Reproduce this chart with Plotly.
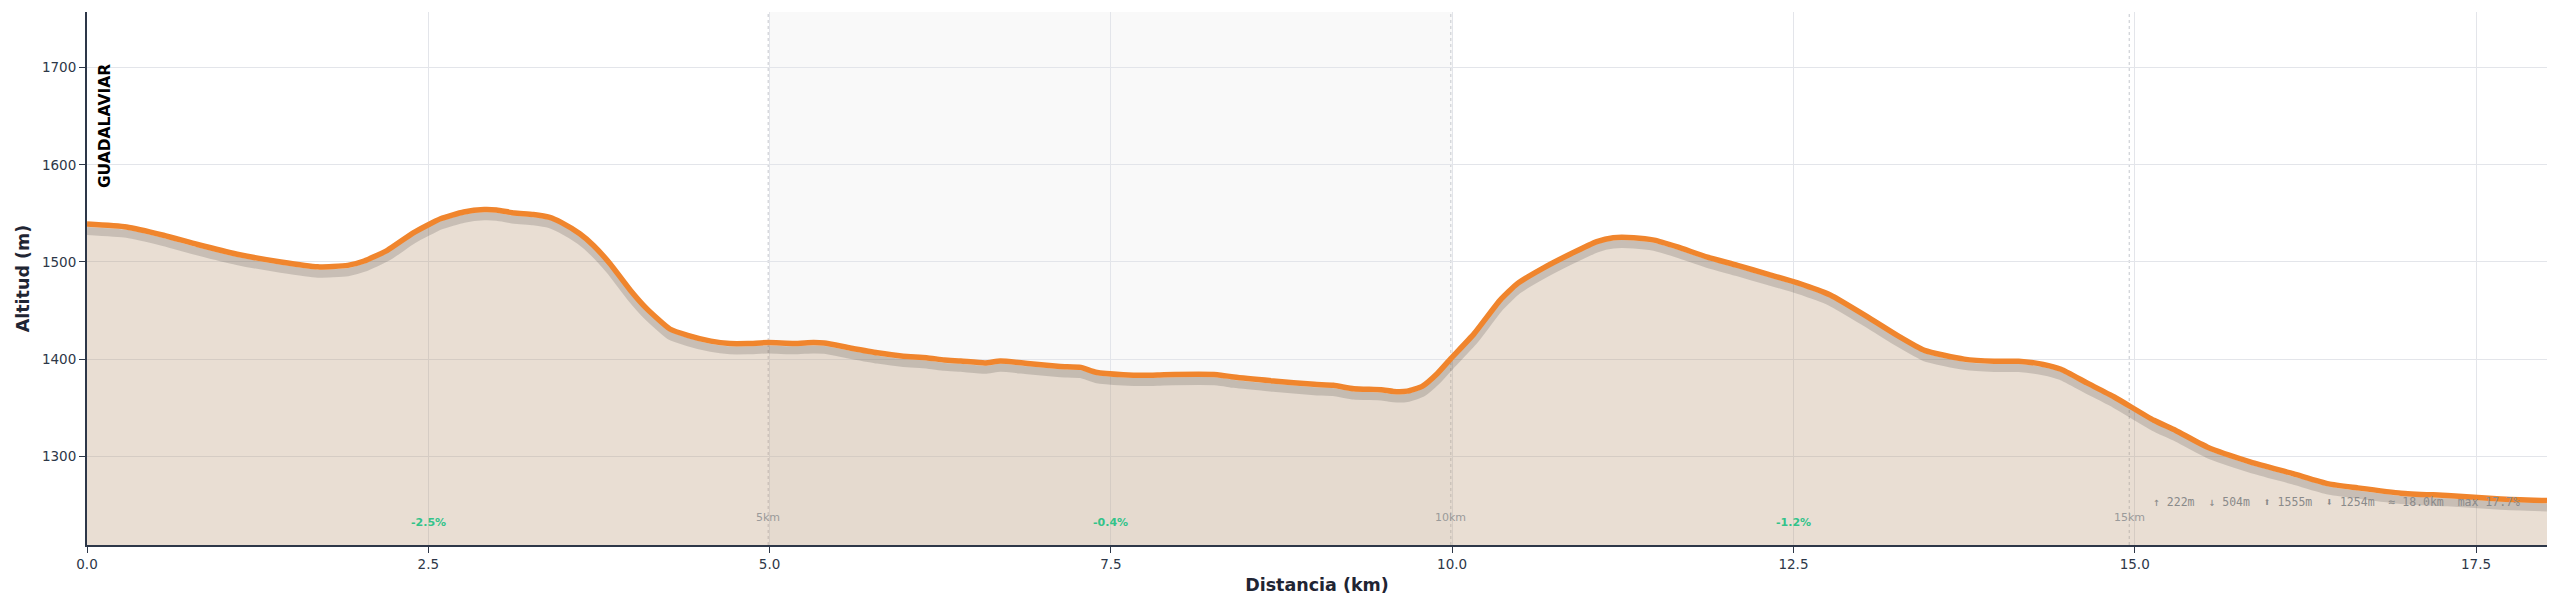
import plotly.graph_objects as go

# ---- data ----
distance_km = [0.00, 0.29, 0.56, 0.81, 1.10, 1.42, 1.69, 1.91, 2.03, 2.20, 2.39, 2.59, 2.76, 2.91,
               3.00, 3.13, 3.27, 3.39, 3.47, 3.61, 3.71, 3.83, 3.98, 4.10, 4.27, 4.40, 4.57, 4.71,
               4.84, 4.99, 5.18, 5.32, 5.40, 5.59, 5.79, 5.98, 6.15, 6.28, 6.40, 6.58, 6.69, 6.89,
               7.13, 7.28, 7.39, 7.59, 7.79, 7.89, 8.28, 8.40, 8.69, 8.99, 9.13, 9.28, 9.48, 9.57,
               9.67, 9.78, 9.89, 9.99, 10.16, 10.35, 10.48, 10.67, 10.87, 11.06, 11.18, 11.33,
               11.48, 11.65, 11.87, 12.09, 12.31, 12.53, 12.77, 13.06, 13.26, 13.46, 13.75, 13.97,
               14.15, 14.33, 14.46, 14.65, 14.85, 15.14, 15.30, 15.53, 15.85, 16.16, 16.42, 16.63,
               16.95, 17.29, 17.68, 18.02]
elevation_m = [1539, 1536, 1527.5, 1518, 1508, 1500, 1495, 1496.5, 1501, 1512, 1530, 1544.5, 1551.5, 1554,
               1553.5, 1550.5, 1549, 1546, 1541, 1529, 1517, 1498.5, 1471, 1452, 1431, 1424.5, 1418.5, 1416,
               1416, 1417, 1416, 1417, 1416.5, 1411.5, 1406.5, 1403, 1401.5, 1399, 1398, 1396, 1398, 1395.5,
               1392.5, 1391.5, 1386.5, 1384, 1383.5, 1384, 1384, 1381.5, 1377.5, 1374, 1373, 1369.5, 1368.5, 1366.7,
               1367, 1372, 1385, 1400.5, 1426, 1460.5, 1478, 1494, 1508.5, 1521, 1525, 1525,
               1522.5, 1515.5, 1505, 1496.5, 1487.5, 1478.5, 1466, 1442, 1424.5, 1409, 1400, 1397.8,
               1397.8, 1394.5, 1389.5, 1375.5, 1361, 1337, 1326.5, 1309.5, 1294, 1282, 1271.5, 1267.5,
               1262, 1259.5, 1256, 1254.3]

km_marker_pos = [4.99, 9.99, 14.96]
km_marker_labels = ["5km", "10km", "15km"]
grade_pos = [2.5, 7.5, 12.5]
grade_labels = ["-2.5%", "-0.4%", "-1.2%"]
highlight_range = [5.0, 10.0]
start_name = "GUADALAVIAR"
stats_text = "↑ 222m  ↓ 504m  ⬆ 1555m  ⬇ 1254m  ≈ 18.0km  max 17.7%"
x_ticks = [0, 2.5, 5, 7.5, 10, 12.5, 15, 17.5]
y_ticks = [1300, 1400, 1500, 1600, 1700]

SHADOW_OFFSET = 7
FONT = "DejaVu Sans"
GRID = "#e3e5ea"
AXIS = "#2d3748"

fig = go.Figure()

# filled area
fig.add_trace(go.Scatter(x=distance_km, y=elevation_m, mode="lines", line=dict(width=0, color="rgba(0,0,0,0)", shape="spline", smoothing=0.5),
                         fill="tozeroy", fillcolor="rgba(182,145,108,0.30)", hoverinfo="skip", showlegend=False))
# shadow
fig.add_trace(go.Scatter(x=distance_km, y=[e - SHADOW_OFFSET for e in elevation_m], mode="lines",
                         line=dict(width=8, color="rgba(0,0,0,0.14)", shape="spline", smoothing=0.5),
                         hoverinfo="skip", showlegend=False))
# main line
fig.add_trace(go.Scatter(x=distance_km, y=elevation_m, mode="lines",
                         line=dict(width=5.5, color="#f0852d", shape="spline", smoothing=0.5),
                         showlegend=False))

shapes = [dict(type="rect", xref="x", yref="paper", x0=highlight_range[0], x1=highlight_range[1], y0=0, y1=1,
               fillcolor="#f9f9f9", line=dict(width=0), layer="below")]
for p in km_marker_pos:
    shapes.append(dict(type="line", xref="x", yref="paper", x0=p, x1=p, y0=0, y1=1,
                       line=dict(color="#cfd1d6", width=1.2, dash="dot"), layer="below"))

annotations = []
for p, t in zip(km_marker_pos, km_marker_labels):
    annotations.append(dict(x=p, y=0.051, xref="x", yref="paper", text=t, showarrow=False,
                            font=dict(family=FONT, size=11, color="#9a9a9a"), xanchor="center", yanchor="middle"))
for p, t in zip(grade_pos, grade_labels):
    annotations.append(dict(x=p, y=0.043, xref="x", yref="paper", text="<b>" + t + "</b>", showarrow=False,
                            font=dict(family=FONT, size=11, color="#33c38a"), xanchor="center", yanchor="middle"))
annotations.append(dict(x=0, y=0.906, xref="x", yref="paper", text="<b>" + start_name + "</b>", showarrow=False,
                        textangle=-90, xanchor="left", yanchor="top", xshift=7,
                        font=dict(family=FONT, size=15.5, color="black")))
annotations.append(dict(x=0.990, y=0.081, xref="paper", yref="paper", text=stats_text, showarrow=False,
                        xanchor="right", yanchor="middle",
                        font=dict(family="DejaVu Sans Mono", size=11.5, color="#8a8a8a")))

fig.update_layout(
    width=2560, height=608,
    margin=dict(l=87, r=13, t=12, b=63),
    plot_bgcolor="white", paper_bgcolor="white",
    shapes=shapes, annotations=annotations,
    font=dict(family=FONT, color=AXIS),
    xaxis=dict(range=[0, 18.02], tickvals=x_ticks, tickformat=".1f", showgrid=True, gridcolor=GRID, gridwidth=1,
               showline=True, linecolor=AXIS, linewidth=2, ticks="outside", ticklen=6, tickcolor=AXIS,
               tickfont=dict(size=13.5, color=AXIS, family=FONT), zeroline=False,
               title=dict(text="<b>Distancia (km)</b>", font=dict(size=17.5, color="#1f2533", family=FONT), standoff=8)),
    yaxis=dict(range=[1208.6, 1757.4], tickvals=y_ticks, showgrid=True, gridcolor=GRID, gridwidth=1,
               showline=True, linecolor=AXIS, linewidth=2, ticks="outside", ticklen=6, tickcolor=AXIS,
               tickfont=dict(size=13.5, color=AXIS, family=FONT), zeroline=False,
               title=dict(text="<b>Altitud (m)</b>", font=dict(size=17.5, color="#1f2533", family=FONT), standoff=8)),
)

fig.write_html("out.html")
